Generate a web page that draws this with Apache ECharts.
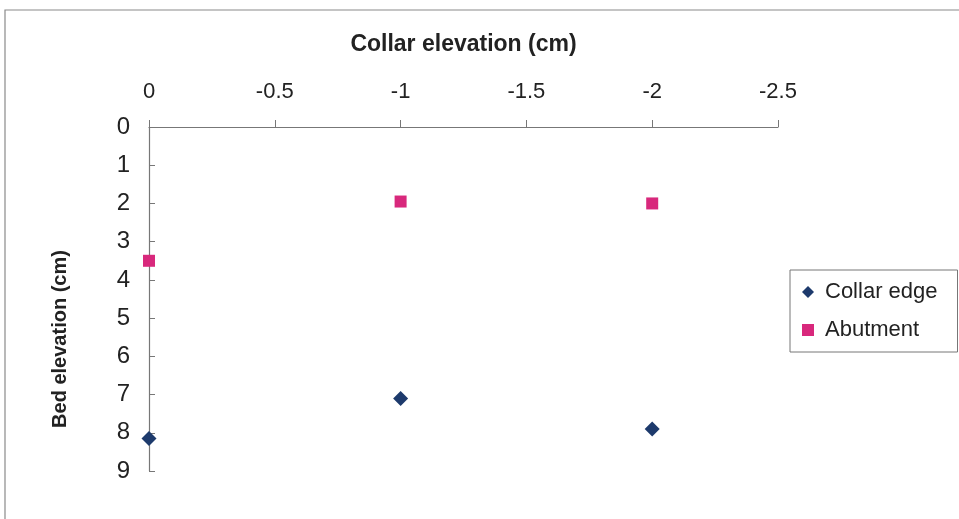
<!DOCTYPE html>
<html>
<head>
<meta charset="utf-8">
<script src="https://cdn.jsdelivr.net/npm/echarts@6/dist/echarts.min.js"></script>
<style>
  html, body { margin: 0; padding: 0; background: #ffffff; }
  #chart { width: 959px; height: 519px; }
</style>
</head>
<body>
<div id="chart"></div>
<script>
// Collar elevation (cm) at which each measurement was taken
const collarElevation = [0, -1, -2];
// Bed elevation (cm) measured at the collar edge and at the abutment
const collarEdge = [8.15, 7.1, 7.9];
const abutment = [3.5, 1.95, 2.0];

const font = 'Arial, "Liberation Sans", sans-serif';
const chart = echarts.init(document.getElementById('chart'));

const pairs = (ys) => collarElevation.map((x, i) => [x, ys[i]]);

chart.setOption({
  backgroundColor: '#ffffff',
  animation: false,
  graphic: [{
    type: 'rect',
    shape: { x: 5, y: 10, width: 1000, height: 600 },
    style: { fill: 'none', stroke: '#8a8a8a', lineWidth: 1.2 },
    silent: true
  }],
  grid: { left: 149, top: 127, width: 629, height: 344 },
  legend: {
    orient: 'vertical',
    left: 790,
    top: 270,
    padding: [11, 20, 11, 12],
    itemGap: 16,
    itemWidth: 12,
    itemHeight: 12,
    borderColor: '#777',
    borderWidth: 1,
    textStyle: { fontFamily: font, fontSize: 22, color: '#222', padding: [0, 0, 0, 6] },
    data: [
      { name: 'Collar edge', icon: 'diamond' },
      { name: 'Abutment', icon: 'rect' }
    ]
  },
  xAxis: {
    type: 'value',
    position: 'top',
    inverse: true,
    min: -2.5,
    max: 0,
    interval: 0.5,
    name: 'Collar elevation (cm)',
    nameLocation: 'middle',
    nameGap: 71,
    nameTextStyle: { fontFamily: font, fontSize: 23, fontWeight: 'bold', color: '#222' },
    axisLine: { show: true, lineStyle: { color: '#777', width: 1.2 } },
    axisTick: { show: true, inside: false, length: 7, lineStyle: { color: '#777' } },
    axisLabel: { fontFamily: font, fontSize: 22, color: '#222', margin: 24 },
    splitLine: { show: false }
  },
  yAxis: {
    type: 'value',
    inverse: true,
    min: 0,
    max: 9,
    interval: 1,
    name: 'Bed elevation (cm)',
    nameLocation: 'middle',
    nameGap: 79,
    nameRotate: 90,
    nameTextStyle: {
      fontFamily: font, fontSize: 20, fontWeight: 'bold', color: '#222',
      padding: [0, 80, 0, 0]
    },
    axisLine: { show: true, lineStyle: { color: '#777', width: 1.2 } },
    axisTick: { show: true, inside: true, length: 6, lineStyle: { color: '#777' } },
    axisLabel: { fontFamily: font, fontSize: 24, color: '#222', margin: 19 },
    splitLine: { show: false }
  },
  series: [
    {
      name: 'Collar edge',
      type: 'scatter',
      symbol: 'diamond',
      symbolSize: 15,
      itemStyle: { color: '#1d3a6c', opacity: 1 },
      data: pairs(collarEdge)
    },
    {
      name: 'Abutment',
      type: 'scatter',
      symbol: 'rect',
      symbolSize: 12,
      itemStyle: { color: '#d8287c', opacity: 1 },
      data: pairs(abutment)
    }
  ]
});
</script>
</body>
</html>
